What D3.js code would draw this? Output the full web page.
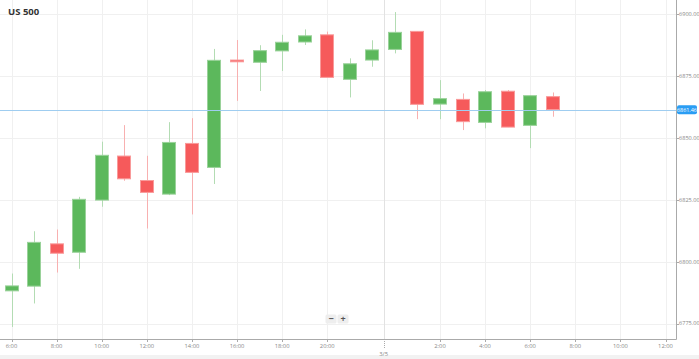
<!DOCTYPE html>
<html><head><meta charset="utf-8">
<script src="https://cdn.jsdelivr.net/npm/d3@7/dist/d3.min.js"></script>
<style>
html,body{margin:0;padding:0;background:#fff;}
svg{display:block;font-family:"Open Sans","DejaVu Sans",sans-serif;}
</style></head>
<body>
<svg id="chart" width="699" height="359"></svg>
<script>
// ---- data ----
const title = "US 500";
const slotHours = [6,7,8,9,10,11,12,13,14,15,16,17,18,19,20,21,22,0,1,2,3,4,5,6,7,8,9,10,11,12];
const open  = [6788.2,6790.1,6807.2,6803.8,6824.9,6842.7,6832.8,6827.3,6847.8,6838.1,6881.5,6880.6,6885.2,6888.8,6891.7,6873.7,6881.5,6885.8,6893.1,6863.7,6865.6,6856.3,6868.9,6855.1,6866.7];
const close = [6790.2,6807.8,6803.4,6825.2,6843.0,6833.5,6828.0,6848.2,6836.1,6881.4,6880.8,6885.3,6888.7,6891.3,6874.5,6880.0,6885.6,6892.7,6863.6,6865.9,6856.6,6868.7,6854.4,6867.1,6861.5];
const high  = [6795.2,6812.3,6813.0,6826.2,6848.5,6855.2,6842.8,6856.4,6858.0,6886.0,6889.6,6887.5,6891.7,6893.9,6893.0,6882.2,6889.5,6900.9,6893.2,6873.4,6868.0,6869.4,6869.4,6867.3,6868.4];
const low   = [6773.6,6783.1,6795.6,6797.1,6822.2,6832.7,6813.4,6826.9,6819.1,6831.4,6865.0,6869.0,6877.1,6887.6,6874.5,6866.4,6878.8,6884.2,6857.6,6857.6,6853.2,6853.9,6854.4,6845.9,6858.6];
const yTicks = [6775,6800,6825,6850,6875,6900];
const dayLabel = "3/5";
const lastPrice = 6861.46;

// ---- layout ----
const svg = d3.select("#chart");
const W = 699, H = 359;
const axisX = 676, axisY = 339;

const x = d3.scaleLinear().domain([0, 29]).range([11.5, 665.5]);
const y = d3.scaleLinear().domain([6775, 6900]).range([323.5, 14.3]);

// bottom band
svg.append("rect").attr("x",0).attr("y",355).attr("width",W).attr("height",4).attr("fill","#f2f2f2");

// x tick slots
const xTickIdx = slotHours.map((h,i)=>({h,i})).filter(d=>d.h%2===0 && d.h!==22 && d.h!==0);
const dayIdx = slotHours.indexOf(0);
const dayX = (x(dayIdx-1)+x(dayIdx))/2;

// grid
const grid = svg.append("g");
grid.selectAll("line.hg").data(yTicks).join("line")
  .attr("x1",0).attr("x2",axisX).attr("y1",d=>Math.round(y(d))+0.5).attr("y2",d=>Math.round(y(d))+0.5)
  .attr("stroke","#f0f0f0").attr("stroke-width",1);
grid.selectAll("line.vg").data(xTickIdx).join("line")
  .attr("x1",d=>Math.round(x(d.i))+0.5).attr("x2",d=>Math.round(x(d.i))+0.5).attr("y1",0).attr("y2",axisY)
  .attr("stroke","#f0f0f0").attr("stroke-width",1);
grid.append("line").attr("x1",Math.round(dayX)+0.5).attr("x2",Math.round(dayX)+0.5).attr("y1",0).attr("y2",axisY)
  .attr("stroke","#e2e2e2").attr("stroke-width",1);

// candles
const candles = open.map((o,i)=>({i,o,c:close[i],h:high[i],l:low[i],up:close[i]>=o}));
const bw = 14;
const cg = svg.append("g");
cg.selectAll("line.wick").data(candles).join("line")
  .attr("x1",d=>Math.round(x(d.i))+0.5).attr("x2",d=>Math.round(x(d.i))+0.5)
  .attr("y1",d=>y(d.h)).attr("y2",d=>y(d.l))
  .attr("stroke",d=>d.up?"#b3dcb3":"#f8b0b0").attr("stroke-width",1);
cg.selectAll("rect.body").data(candles).join("rect")
  .attr("x",d=>Math.round(x(d.i))-bw/2+0.5).attr("width",bw-1)
  .attr("y",d=>y(Math.max(d.o,d.c)))
  .attr("height",d=>Math.max(1.5,Math.abs(y(d.o)-y(d.c))))
  .attr("fill",d=>d.up?"#5cb85c":"#f65a5b")
  .attr("stroke",d=>d.up?"#9ad29a":"#f99a9a").attr("stroke-width",1);

// last price line
svg.append("line").attr("x1",0).attr("x2",axisX).attr("y1",Math.round(y(lastPrice))+0.5).attr("y2",Math.round(y(lastPrice))+0.5)
  .attr("stroke","#9fcdf0").attr("stroke-width",1);

// axes lines
svg.append("line").attr("x1",axisX+0.5).attr("x2",axisX+0.5).attr("y1",0).attr("y2",axisY+0.5).attr("stroke","#aaa");
svg.append("line").attr("x1",0).attr("x2",axisX+0.5).attr("y1",axisY+0.5).attr("y2",axisY+0.5).attr("stroke","#aaa");

// y axis ticks & labels
const ya = svg.append("g");
ya.selectAll("line").data(yTicks).join("line")
  .attr("x1",axisX).attr("x2",axisX+3).attr("y1",d=>Math.round(y(d))+0.5).attr("y2",d=>Math.round(y(d))+0.5).attr("stroke","#aaa");
ya.selectAll("text").data(yTicks).join("text")
  .attr("x",axisX+3).attr("y",d=>y(d)).attr("dy","0.35em")
  .attr("font-size",5.6).attr("fill","#888").text(d=>d.toFixed(2));

// last price label
const ly = y(lastPrice);
svg.append("rect").attr("x",axisX+1).attr("y",ly-4.5).attr("width",20).attr("height",9).attr("rx",2)
  .attr("fill","#2a9df4");
svg.append("text").attr("x",axisX+11).attr("y",ly).attr("dy","0.35em").attr("text-anchor","middle")
  .attr("font-size",5.4).attr("fill","#fff").text(lastPrice.toFixed(2));

// x axis ticks & labels
const xa = svg.append("g");
xa.selectAll("line").data(xTickIdx).join("line")
  .attr("x1",d=>Math.round(x(d.i))+0.5).attr("x2",d=>Math.round(x(d.i))+0.5).attr("y1",axisY).attr("y2",axisY+3).attr("stroke","#aaa");
xa.selectAll("text").data(xTickIdx).join("text")
  .attr("x",d=>x(d.i)).attr("y",axisY+7).attr("dy","0.35em").attr("text-anchor","middle")
  .attr("font-size",5.8).attr("fill","#888").text(d=>d.h+":00");
xa.append("line").attr("x1",Math.round(dayX)+0.5).attr("x2",Math.round(dayX)+0.5).attr("y1",axisY).attr("y2",axisY+10)
  .attr("stroke","#aaa").attr("stroke-dasharray","1,1");
xa.append("text").attr("x",dayX).attr("y",axisY+15).attr("dy","0.35em").attr("text-anchor","middle")
  .attr("font-size",5.8).attr("fill","#888").text(dayLabel);

// zoom buttons
const zb = svg.append("g");
[["−",331],["+",343]].forEach(([t,cx])=>{
  zb.append("rect").attr("x",cx-5.5).attr("y",314.5).attr("width",11).attr("height",9).attr("rx",1.5)
    .attr("fill","#eeeeee");
  zb.append("text").attr("x",cx).attr("y",319).attr("dy","0.35em").attr("text-anchor","middle")
    .attr("font-size",9).attr("font-weight","bold").attr("fill","#555").text(t);
});

// title
svg.append("text").attr("x",8).attr("y",14.5).attr("font-size",9.5).attr("font-weight","bold")
  .attr("fill","#333").text(title);
</script>
</body></html>
